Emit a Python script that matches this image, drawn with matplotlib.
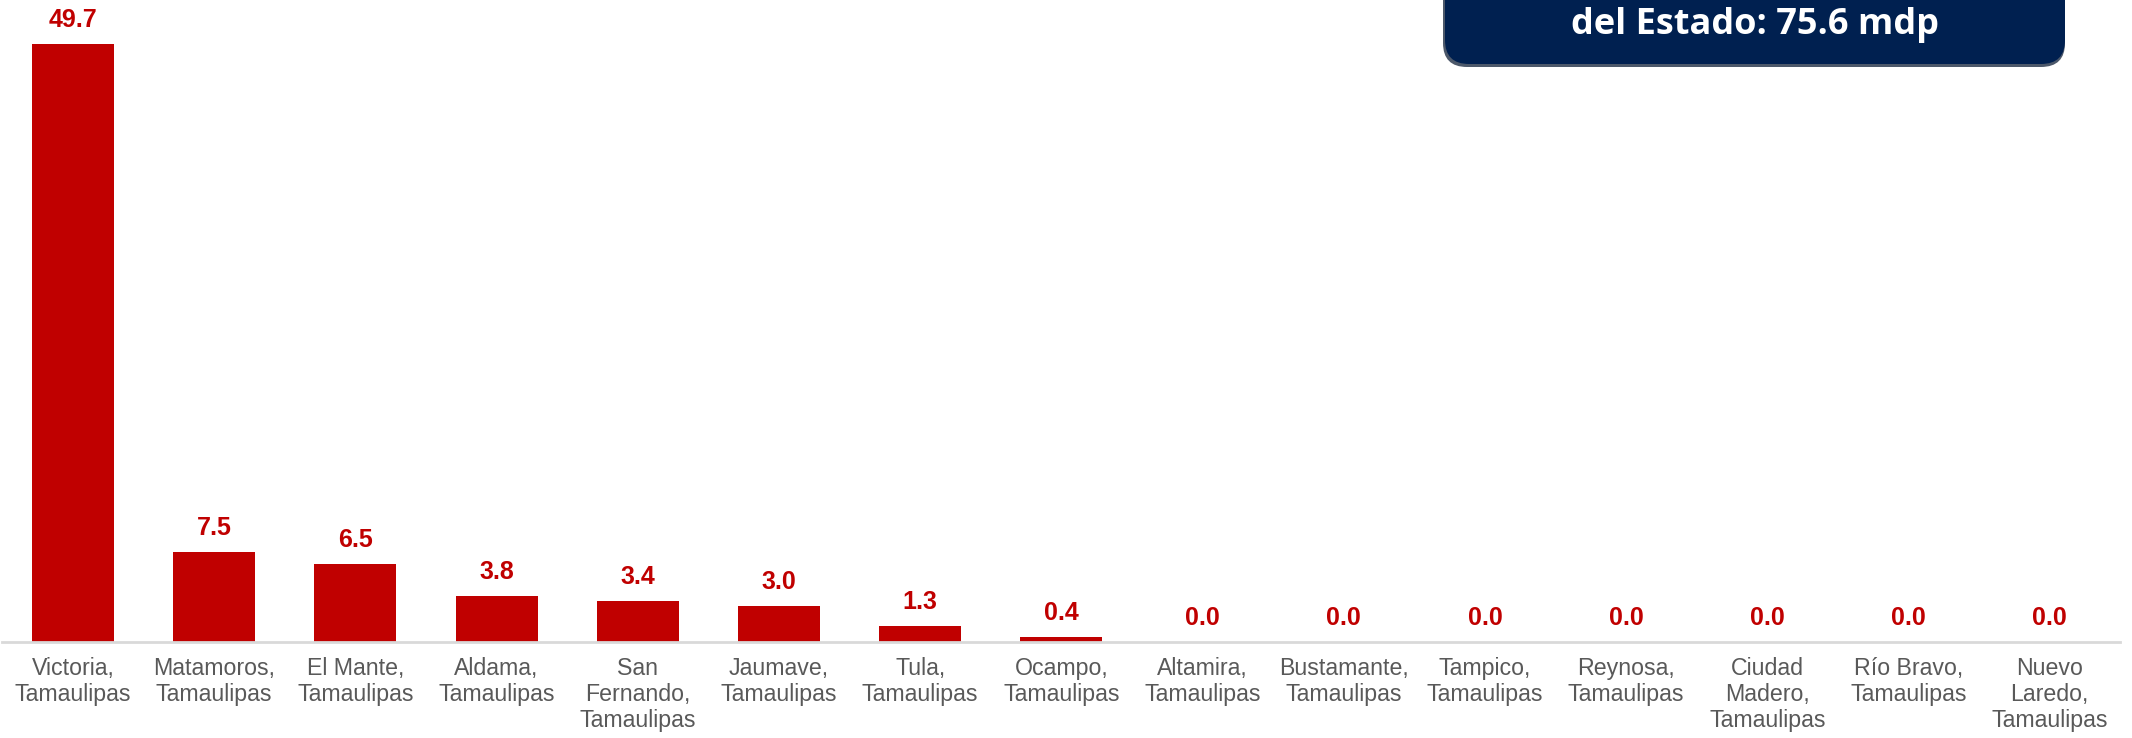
import numpy as np
import matplotlib.pyplot as plt
from matplotlib.patches import FancyBboxPatch

# Datos
municipios = ["Victoria,\nTamaulipas", "Matamoros,\nTamaulipas", "El Mante,\nTamaulipas",
              "Aldama,\nTamaulipas", "San\nFernando,\nTamaulipas", "Jaumave,\nTamaulipas",
              "Tula,\nTamaulipas", "Ocampo,\nTamaulipas", "Altamira,\nTamaulipas",
              "Bustamante,\nTamaulipas", "Tampico,\nTamaulipas", "Reynosa,\nTamaulipas",
              "Ciudad\nMadero,\nTamaulipas", "Río Bravo,\nTamaulipas", "Nuevo\nLaredo,\nTamaulipas"]
montos = [49.7, 7.5, 6.5, 3.8, 3.4, 3.0, 1.3, 0.4, 0.0, 0.0, 0.0, 0.0, 0.0, 0.0, 0.0]
total_texto = "del Estado: 75.6 mdp"

plt.rcParams['font.family'] = ['Liberation Sans', 'DejaVu Sans']

fig = plt.figure(figsize=(21.32, 7.38), dpi=100)
ax = fig.add_axes([2.4 / 2132, 96 / 738, 2118 / 2132, 642 / 738])

x = np.arange(len(montos))
bars = ax.bar(x, montos, width=0.58, color='#C00000')

# Etiquetas de valor
for xi, v in zip(x, montos):
    ax.annotate(f"{v:.1f}", (xi, v), xytext=(0, 17.5), textcoords='offset points',
                ha='center', va='center', fontsize=18, fontweight='bold', color='#C00000')

ax.set_xlim(-0.5, len(montos) - 0.5)
ax.set_ylim(0, 53.4)
ax.set_xticks(x)
ax.set_xticklabels(municipios, fontsize=16.7, color='#595959', linespacing=1.15)
ax.tick_params(axis='x', length=0, pad=11)
ax.set_yticks([])
for s in ['top', 'right', 'left']:
    ax.spines[s].set_visible(False)
ax.spines['bottom'].set_color('#D9D9D9')
ax.spines['bottom'].set_linewidth(2)

# Recuadro del total
ov = fig.add_axes([0, 0, 1, 1], facecolor='none')
ov.set_xlim(0, 2132)
ov.set_ylim(738, 0)
ov.axis('off')
sombra = FancyBboxPatch((1443, -60), 622, 127, boxstyle="round,pad=0,rounding_size=24",
                        facecolor='#00112b', edgecolor='none', alpha=0.7)
ov.add_patch(sombra)
caja = FancyBboxPatch((1445, -60), 620, 124, boxstyle="round,pad=0,rounding_size=24",
                      facecolor='#002050', edgecolor='none')
ov.add_patch(caja)
ov.text(1755, 25, total_texto, ha='center', va='center', fontsize=26,
        fontweight='bold', color='white', family=['Open Sans', 'DejaVu Sans'])

fig.savefig("out.png", dpi=100)
